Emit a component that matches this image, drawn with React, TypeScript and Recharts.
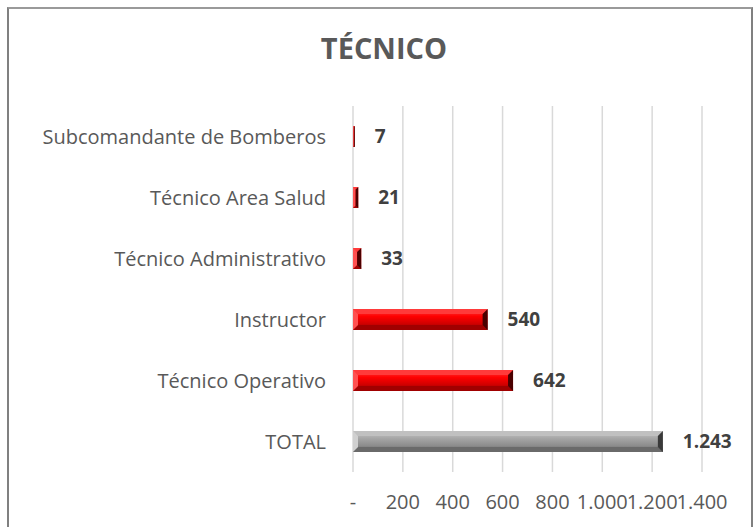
import React from 'react';
import { BarChart, Bar, XAxis, YAxis, CartesianGrid, LabelList, Cell } from 'recharts';

const categories = [
  'Subcomandante de Bomberos',
  'Técnico Area Salud',
  'Técnico Administrativo',
  'Instructor',
  'Técnico Operativo',
  'TOTAL',
];
const values = [7, 21, 33, 540, 642, 1243];
const xTicks = [0, 200, 400, 600, 800, 1000, 1200, 1400];
const title = 'TÉCNICO';

const data = categories.map((name, i) => ({ name, value: values[i] }));

const FONT = '"Open Sans", "Noto Sans", sans-serif';

const fmt = (v: number) => {
  if (v === 0) return '-';
  return String(v).replace(/\B(?=(\d{3})+(?!\d))/g, '.');
};

const palettes: Record<string, any> = {
  red: { top: '#ff4040', mid: '#ff0000', low: '#d00000', bot: '#8a0000', right: '#4a0000', left: '#ff5050', topB: '#ff3a3a', botB: '#a00000' },
  gray: { top: '#c8c8c8', mid: '#a6a6a6', low: '#8c8c8c', bot: '#5e5e5e', right: '#3a3a3a', left: '#d0d0d0', topB: '#c0c0c0', botB: '#6a6a6a' },
};

const BevelBar = (props: any) => {
  const { x, y, width, height, payload } = props;
  if (width <= 0 || height <= 0) return null;
  const key = payload && payload.name === 'TOTAL' ? 'gray' : 'red';
  const p = palettes[key];
  const gid = `grad-${key}`;
  const b = Math.min(5, width / 2, height / 2);
  return (
    <g>
      <defs>
        <linearGradient id={gid} x1="0" y1="0" x2="0" y2="1">
          <stop offset="0%" stopColor={p.top} />
          <stop offset="35%" stopColor={p.mid} />
          <stop offset="70%" stopColor={p.low} />
          <stop offset="100%" stopColor={p.bot} />
        </linearGradient>
      </defs>
      <rect x={x} y={y} width={width} height={height} fill={`url(#${gid})`} />
      <polygon points={`${x},${y} ${x + width},${y} ${x + width - b},${y + b} ${x + b},${y + b}`} fill={p.topB} />
      <polygon points={`${x},${y + height} ${x + width},${y + height} ${x + width - b},${y + height - b} ${x + b},${y + height - b}`} fill={p.botB} />
      <polygon points={`${x},${y} ${x + b},${y + b} ${x + b},${y + height - b} ${x},${y + height}`} fill={p.left} />
      <polygon points={`${x + width},${y} ${x + width - b},${y + b} ${x + width - b},${y + height - b} ${x + width},${y + height}`} fill={p.right} />
    </g>
  );
};

export default function App() {
  return (
    <div style={{ position: 'fixed', left: 0, top: 0, width: 753, height: 527, overflow: 'hidden', background: '#fff' }}>
      <div
        style={{
          position: 'absolute',
          left: 7,
          top: 7,
          width: 742,
          height: 600,
          border: '2px solid #808080',
          borderTopColor: '#9a9a9a',
        }}
      />
      <div
        style={{
          position: 'absolute',
          left: 0,
          top: 28,
          width: 768,
          textAlign: 'center',
          fontFamily: FONT,
          fontWeight: 700,
          fontSize: 29,
          color: '#595959',
          lineHeight: '40px',
        }}
      >
        {title}
      </div>
      <div style={{ position: 'absolute', left: 0, top: 0 }}>
        <BarChart
          width={753}
          height={527}
          data={data}
          layout="vertical"
          margin={{ top: 106, right: 51, bottom: 0, left: 0 }}
          barCategoryGap={40}
        >
          <CartesianGrid horizontal={false} vertical={true} stroke="#d9d9d9" strokeWidth={1.5} />
          <XAxis
            type="number"
            domain={[0, 1400]}
            ticks={xTicks}
            interval={0}
            tickFormatter={fmt}
            axisLine={false}
            tickLine={false}
            tickSize={0}
            tickMargin={23}
            height={55}
            tick={{ fill: '#595959', fontSize: 20, fontFamily: FONT }}
          />
          <YAxis
            type="category"
            dataKey="name"
            width={353}
            axisLine={false}
            tickLine={false}
            tickSize={0}
            tickMargin={27}
            interval={0}
            tick={{ fill: '#595959', fontSize: 20, fontFamily: FONT }}
          />
          <Bar dataKey="value" barSize={21} isAnimationActive={false} shape={<BevelBar />}>
            {data.map((d, i) => (
              <Cell key={i} fill={d.name === 'TOTAL' ? '#a6a6a6' : '#ff0000'} />
            ))}
            <LabelList
              dataKey="value"
              position="right"
              offset={20}
              formatter={(v: any) => fmt(Number(v))}
              style={{ fill: '#404040', fontWeight: 700, fontSize: 19, fontFamily: FONT }}
            />
          </Bar>
        </BarChart>
      </div>
    </div>
  );
}
